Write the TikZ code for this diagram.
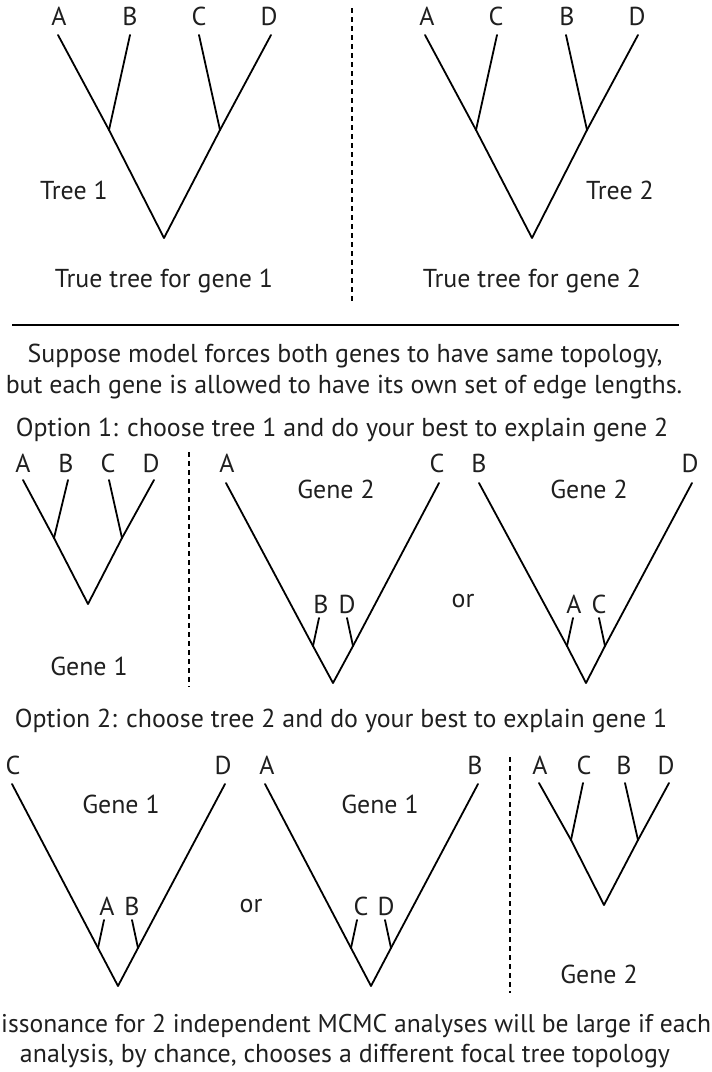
\documentclass[tikz,border=0pt]{standalone}
\usepackage{fontspec}
\setmainfont{PT Sans}
\begin{document}
\begin{tikzpicture}[x=1bp,y=-1bp,
  edge/.style={line width=1.8bp,line cap=round,line join=round},
  sep/.style={line width=1.6bp,dash pattern=on 5bp off 4bp},
  rule/.style={line width=1.8bp},
  txt/.style={inner sep=0pt,anchor=base,font=\fontsize{26}{30}\selectfont,text=black!88}]
\useasboundingbox (0,0) rectangle (712,1072);

% ---------- top left: tree 1 ----------
\coordinate (t1A) at (58,35);  \coordinate (t1B) at (130,35);
\coordinate (t1C) at (199,35); \coordinate (t1D) at (271,35);
\coordinate (t1AB) at (109,130); \coordinate (t1CD) at (220,130);
\coordinate (t1R) at (164,238);
\draw[edge] (t1A) -- (t1AB) -- (t1R) -- (t1CD) -- (t1D);
\draw[edge] (t1B) -- (t1AB);
\draw[edge] (t1C) -- (t1CD);
\node[txt] (l1A) at (59,25) {A};
\node[txt] (l1B) at (130,25) {B};
\node[txt] (l1C) at (199,25) {C};
\node[txt] (l1D) at (269,25) {D};
\node[txt] (tree1) at (74,199) {Tree 1};
\node[txt] (true1) at (164,287) {True tree for gene 1};

% divider
\coordinate (d1t) at (352,8); \coordinate (d1b) at (352,303);
\draw[sep] (d1t) -- (d1b);

% ---------- top right: tree 2 ----------
\coordinate (t2A) at (425,35);  \coordinate (t2C) at (497,35);
\coordinate (t2B) at (566,35);  \coordinate (t2D) at (638,35);
\coordinate (t2AC) at (476,130); \coordinate (t2BD) at (587,130);
\coordinate (t2R) at (532,238);
\draw[edge] (t2A) -- (t2AC) -- (t2R) -- (t2BD) -- (t2D);
\draw[edge] (t2C) -- (t2AC);
\draw[edge] (t2B) -- (t2BD);
\node[txt] (l2A) at (427,25) {A};
\node[txt] (l2C) at (496,25) {C};
\node[txt] (l2B) at (567,25) {B};
\node[txt] (l2D) at (637,25) {D};
\node[txt] (tree2) at (620,199) {Tree 2};
\node[txt] (true2) at (532,287) {True tree for gene 2};

% rule
\coordinate (hr1) at (12,325); \coordinate (hr2) at (679,325);
\draw[rule] (hr1) -- (hr2);

\node[txt] (sup1) at (345,362) {Suppose model forces both genes to have same topology,};
\node[txt] (sup2) at (344,393) {but each gene is allowed to have its own set of edge lengths.};
\node[txt] (opt1) at (342,436) {Option 1: choose tree 1 and do your best to explain gene 2};

% ---------- option 1: small tree 1 ----------
\coordinate (s1A) at (23,480);  \coordinate (s1B) at (68,480);
\coordinate (s1C) at (109,480); \coordinate (s1D) at (154,480);
\coordinate (s1AB) at (54,538); \coordinate (s1CD) at (122,538);
\coordinate (s1R) at (88,604);
\draw[edge] (s1A) -- (s1AB) -- (s1R) -- (s1CD) -- (s1D);
\draw[edge] (s1B) -- (s1AB);
\draw[edge] (s1C) -- (s1CD);
\node[txt] (ls1A) at (23,472) {A};
\node[txt] (ls1B) at (66,472) {B};
\node[txt] (ls1C) at (108,472) {C};
\node[txt] (ls1D) at (151,472) {D};
\node[txt] (g1a) at (89,675) {Gene 1};

\coordinate (d2t) at (189,452); \coordinate (d2b) at (189,687);
\draw[sep] (d2t) -- (d2b);

% ---------- option 1: big tree a ----------
\coordinate (baA) at (226,483); \coordinate (baC) at (439,483);
\coordinate (baR) at (333,683);
\coordinate (baBn) at (313,646); \coordinate (baB) at (319,618);
\coordinate (baDn) at (353,646); \coordinate (baD) at (347,618);
\draw[edge] (baA) -- (baBn) -- (baR) -- (baDn) -- (baC);
\draw[edge] (baB) -- (baBn);
\draw[edge] (baD) -- (baDn);
\node[txt] (lbaA) at (227,472) {A};
\node[txt] (lbaC) at (437,472) {C};
\node[txt] (lbaB) at (321,613) {B};
\node[txt] (lbaD) at (347,613) {D};
\node[txt] (g2a) at (336,498) {Gene 2};
\node[txt] (or1) at (463,607) {or};

% ---------- option 1: big tree b ----------
\coordinate (bbB) at (479,483); \coordinate (bbD) at (692,483);
\coordinate (bbR) at (586,683);
\coordinate (bbAn) at (567,646); \coordinate (bbA) at (573,618);
\coordinate (bbCn) at (605,646); \coordinate (bbC) at (599,618);
\draw[edge] (bbB) -- (bbAn) -- (bbR) -- (bbCn) -- (bbD);
\draw[edge] (bbA) -- (bbAn);
\draw[edge] (bbC) -- (bbCn);
\node[txt] (lbbB) at (479,472) {B};
\node[txt] (lbbD) at (690,472) {D};
\node[txt] (lbbA) at (574,613) {A};
\node[txt] (lbbC) at (599,613) {C};
\node[txt] (g2b) at (589,498) {Gene 2};

\node[txt] (opt2) at (341,727) {Option 2: choose tree 2 and do your best to explain gene 1};

% ---------- option 2: big tree c ----------
\coordinate (bcC) at (12,784); \coordinate (bcD) at (225,784);
\coordinate (bcR) at (118,986);
\coordinate (bcAn) at (98,948); \coordinate (bcA) at (104,920);
\coordinate (bcBn) at (138,948); \coordinate (bcB) at (132,920);
\draw[edge] (bcC) -- (bcAn) -- (bcR) -- (bcBn) -- (bcD);
\draw[edge] (bcA) -- (bcAn);
\draw[edge] (bcB) -- (bcBn);
\node[txt] (lbcC) at (13,774) {C};
\node[txt] (lbcD) at (223,774) {D};
\node[txt] (lbcA) at (107,915) {A};
\node[txt] (lbcB) at (132,915) {B};
\node[txt] (g1b) at (121,813) {Gene 1};
\node[txt] (or2) at (251,912) {or};

% ---------- option 2: big tree d ----------
\coordinate (bdA) at (265,784); \coordinate (bdB) at (478,784);
\coordinate (bdR) at (371,986);
\coordinate (bdCn) at (351,948); \coordinate (bdC) at (357,920);
\coordinate (bdDn) at (391,948); \coordinate (bdD) at (385,920);
\draw[edge] (bdA) -- (bdCn) -- (bdR) -- (bdDn) -- (bdB);
\draw[edge] (bdC) -- (bdCn);
\draw[edge] (bdD) -- (bdDn);
\node[txt] (lbdA) at (267,774) {A};
\node[txt] (lbdB) at (475,774) {B};
\node[txt] (lbdC) at (361,915) {C};
\node[txt] (lbdD) at (386,915) {D};
\node[txt] (g1c) at (380,813) {Gene 1};

\coordinate (d3t) at (510,757); \coordinate (d3b) at (510,993);
\draw[sep] (d3t) -- (d3b);

% ---------- option 2: small tree 2 ----------
\coordinate (s2A) at (539,783); \coordinate (s2C) at (583,783);
\coordinate (s2B) at (625,783); \coordinate (s2D) at (669,783);
\coordinate (s2AC) at (571,840); \coordinate (s2BD) at (638,840);
\coordinate (s2R) at (604,905);
\draw[edge] (s2A) -- (s2AC) -- (s2R) -- (s2BD) -- (s2D);
\draw[edge] (s2C) -- (s2AC);
\draw[edge] (s2B) -- (s2BD);
\node[txt] (ls2A) at (540,774) {A};
\node[txt] (ls2C) at (584,774) {C};
\node[txt] (ls2B) at (624,774) {B};
\node[txt] (ls2D) at (666,774) {D};
\node[txt] (g2c) at (599,983) {Gene 2};

% bottom text (the reference shows the first word cut at the left edge)
\node[txt,anchor=base west,font=\fontsize{25.7}{30}\selectfont] (bot1) at (1,1032) {issonance for 2 independent MCMC analyses will be large if each};
\node[txt] (bot2) at (345,1062) {analysis, by chance, chooses a different focal tree topology};
\end{tikzpicture}
\end{document}
